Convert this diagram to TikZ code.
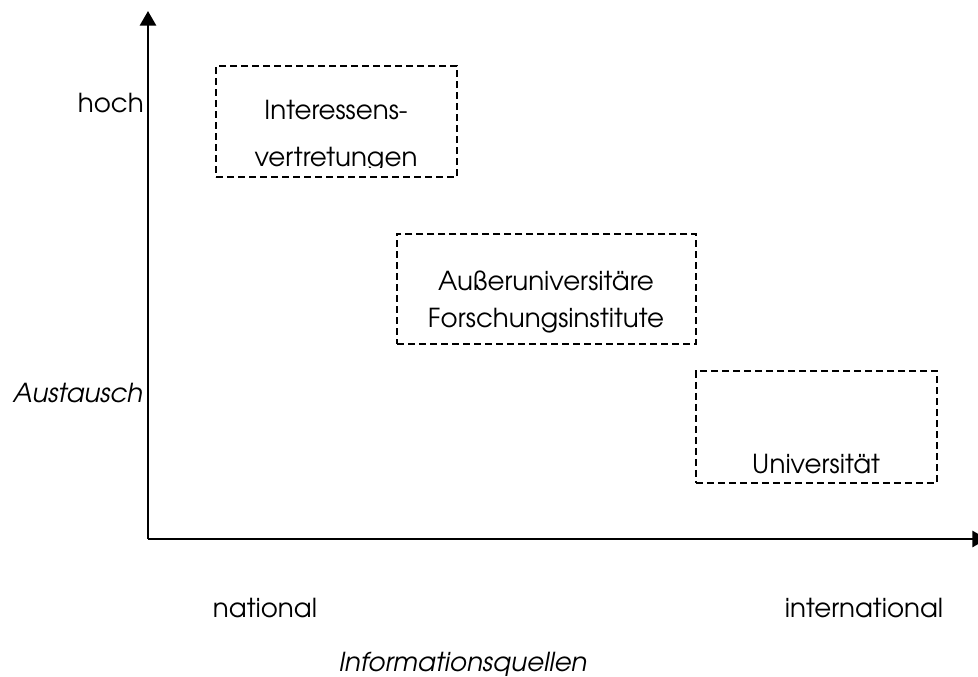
\documentclass[tikz,border=0pt]{standalone}
\usepackage{fontspec}
\setmainfont{texgyreadventor}[Extension=.otf, UprightFont=*-regular, ItalicFont=*-italic, BoldFont=*-bold, BoldItalicFont=*-bolditalic]
\usetikzlibrary{arrows.meta}
\begin{document}
\begin{tikzpicture}[x=0.75pt,y=-0.75pt,
  axisline/.style={line width=2.2pt, -{Triangle[width=12pt,length=11pt]}},
  catbox/.style={draw, line width=1.5pt, dash pattern=on 5.25pt off 3pt, inner sep=0pt},
  lbl/.style={font=\fontsize{19.6}{24}\selectfont, inner sep=0pt, anchor=base},
  ilbl/.style={lbl, font=\fontsize{19.6}{24}\selectfont\itshape}]
\useasboundingbox (0,0) rectangle (978,677);
\coordinate (O) at (148,539);
\coordinate (ytip) at (148,11);
\coordinate (xtip) at (987,539);
\draw[axisline] (O) -- (ytip);
\draw[axisline] (O) -- (xtip);
% boxes
\node[catbox, minimum width=180.4pt, minimum height=83.6pt] (b1) at (336.75,121.75) {};
\node[catbox, minimum width=224.2pt, minimum height=82.8pt] (b2) at (546.5,288.8) {};
\node[catbox, minimum width=180.8pt, minimum height=84pt] (b3) at (816.5,427) {};
% box texts
\node[lbl] (t1a) at (336,120) {Interessens-};
\begin{scope}
  \clip (216,60) rectangle (458,167.5);
  \node[lbl] (t1b) at (336,167) {vertretungen};
\end{scope}
\node[lbl] (t2a) at (546,291) {Außeruniversitäre};
\node[lbl] (t2b) at (546,327) {Forschungsinstitute};
\node[lbl] (t3) at (816,473) {Universität};
% axis labels
\node[lbl, anchor=base east] (hoch) at (144,113) {hoch};
\node[ilbl, anchor=base east] (aust) at (143,402) {Austausch};
\node[lbl] (nat) at (265,617) {national};
\node[lbl] (intl) at (864,617) {international};
\node[ilbl] (info) at (463,671) {Informationsquellen};
\end{tikzpicture}
\end{document}
